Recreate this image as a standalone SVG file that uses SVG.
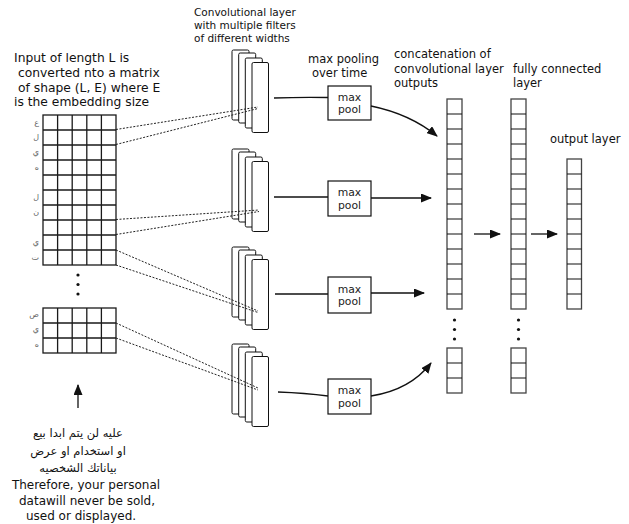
<svg xmlns="http://www.w3.org/2000/svg" width="629" height="524" viewBox="0 0 629 524">
  <style>
    text { font-family: "DejaVu Sans", Verdana, sans-serif; fill: #111; }
    .lbl { font-size: 11.5px; }
    .big { font-size: 12.3px; }
    .foot { font-size: 12px; text-anchor: middle; }
    .small { font-size: 10.5px; }
    .pooltxt { font-size: 10.8px; text-anchor: middle; fill: #222; }
    .ar { font-size: 8px; fill: #666; text-anchor: end; }
    .grid { fill: #fff; stroke: #1a1a1a; stroke-width: 1.3; }
    .gridline { fill: none; stroke: #1a1a1a; stroke-width: 1.3; }
    .cell { fill: #fff; stroke: #444; stroke-width: 1.3; }
    .cellline { fill: none; stroke: #111; stroke-width: 1.1; }
    .filt { fill: #fff; stroke: #111; stroke-width: 1; }
    .box { fill: #fff; stroke: #111; stroke-width: 1.2; }
    .dash { fill: none; stroke: #222; stroke-width: 1; stroke-dasharray: 2 1.5; }
    .wire { fill: none; stroke: #111; stroke-width: 1.3; }
    .dot { fill: #111; }
  </style>
  <defs>
    <marker id="head" markerUnits="userSpaceOnUse" markerWidth="11" markerHeight="9" refX="10" refY="4.5" orient="auto">
      <path d="M0,0 L11,4.5 L0,9 Z" fill="#111"/>
    </marker>
    <!-- one stack of four filter maps, drawn back to front -->
    <g id="stack">
      <rect class="filt" x="0" y="0" width="17" height="70" rx="1.5"/>
      <rect class="filt" x="6.7" y="3" width="17" height="70" rx="1.5"/>
      <rect class="filt" x="13.3" y="8" width="17" height="70" rx="1.5"/>
      <rect class="filt" x="20" y="12.5" width="16.5" height="70" rx="1.5"/>
    </g>
  </defs>

  <rect width="629" height="524" fill="#fff"/>

  <!-- input embedding matrix -->
  <g id="input-matrix">
    <rect class="grid" x="43" y="115" width="73" height="150"/>
    <path class="gridline" d="M57.6,115V265M72.2,115V265M86.8,115V265M101.4,115V265
      M43,130H116M43,145H116M43,160H116M43,175H116M43,190H116M43,205H116M43,220H116M43,235H116M43,250H116"/>
    <text class="ar" x="39" y="125">ع</text>
    <text class="ar" x="39" y="140">ل</text>
    <text class="ar" x="39" y="155">ي</text>
    <text class="ar" x="39" y="170">ه</text>
    <text class="ar" x="39" y="200">ل</text>
    <text class="ar" x="39" y="215">ن</text>
    <text class="ar" x="39" y="245">ي</text>
    <text class="ar" x="39" y="260">ت</text>
    <circle class="dot" cx="78" cy="275" r="1.6"/>
    <circle class="dot" cx="78" cy="284.5" r="1.6"/>
    <circle class="dot" cx="78" cy="294" r="1.6"/>
  </g>

  <g id="input-matrix-tail">
    <rect class="grid" x="43" y="308" width="73" height="45"/>
    <path class="gridline" d="M57.6,308V353M72.2,308V353M86.8,308V353M101.4,308V353M43,323H116M43,338H116"/>
    <text class="ar" x="39" y="317">ص</text>
    <text class="ar" x="39" y="332">ي</text>
    <text class="ar" x="39" y="347">ه</text>
  </g>

  <!-- convolution filter stacks -->
  <g id="filters-1"><use href="#stack" x="232" y="50"/></g>
  <g id="filters-2"><use href="#stack" x="232" y="149"/></g>
  <g id="filters-3"><use href="#stack" x="232" y="247"/></g>
  <g id="filters-4"><use href="#stack" x="232" y="344"/></g>

  <!-- max pooling boxes -->
  <g id="pool-1">
    <rect class="box" x="328" y="86" width="43" height="34"/>
    <text class="pooltxt" x="349.5" y="101">max</text>
    <text class="pooltxt" x="349.5" y="113">pool</text>
  </g>
  <g id="pool-2">
    <rect class="box" x="328" y="181" width="43" height="35"/>
    <text class="pooltxt" x="349.5" y="196">max</text>
    <text class="pooltxt" x="349.5" y="208.5">pool</text>
  </g>
  <g id="pool-3">
    <rect class="box" x="328" y="277" width="43" height="36"/>
    <text class="pooltxt" x="349.5" y="292.5">max</text>
    <text class="pooltxt" x="349.5" y="305">pool</text>
  </g>
  <g id="pool-4">
    <rect class="box" x="328" y="379" width="43" height="35"/>
    <text class="pooltxt" x="349.5" y="394">max</text>
    <text class="pooltxt" x="349.5" y="406.5">pool</text>
  </g>

  <!-- concatenated vector -->
  <g id="concat-layer">
    <rect class="cell" x="447" y="99" width="15" height="210"/>
    <path class="cellline" d="M447,114H462M447,129H462M447,144H462M447,159H462M447,174H462M447,189H462M447,204H462M447,219H462M447,234H462M447,249H462M447,264H462M447,279H462M447,294H462"/>
    <circle class="dot" cx="454.5" cy="320" r="1.6"/>
    <circle class="dot" cx="454.5" cy="329.5" r="1.6"/>
    <circle class="dot" cx="454.5" cy="339" r="1.6"/>
    <rect class="cell" x="447" y="348" width="15" height="45"/>
    <path class="cellline" d="M447,363H462M447,378H462"/>
  </g>

  <!-- fully connected layer -->
  <g id="fc-layer">
    <rect class="cell" x="511" y="99" width="15" height="210"/>
    <path class="cellline" d="M511,114H526M511,129H526M511,144H526M511,159H526M511,174H526M511,189H526M511,204H526M511,219H526M511,234H526M511,249H526M511,264H526M511,279H526M511,294H526"/>
    <circle class="dot" cx="518.5" cy="320" r="1.6"/>
    <circle class="dot" cx="518.5" cy="329.5" r="1.6"/>
    <circle class="dot" cx="518.5" cy="339" r="1.6"/>
    <rect class="cell" x="511" y="348" width="15" height="45"/>
    <path class="cellline" d="M511,363H526M511,378H526"/>
  </g>

  <!-- output layer -->
  <g id="output-layer">
    <rect class="cell" x="567" y="159" width="14.5" height="150"/>
    <path class="cellline" d="M567,174H581.5M567,189H581.5M567,204H581.5M567,219H581.5M567,234H581.5M567,249H581.5M567,264H581.5M567,279H581.5M567,294H581.5"/>
  </g>

  <g id="connectors">
    <!-- receptive fields: matrix rows to filter stacks -->
    <path class="dash" d="M116,129.5L258,107"/>
    <path class="dash" d="M116,144.5L258,108.5"/>
    <path class="dash" d="M116,219.5L259,210"/>
    <path class="dash" d="M116,234.5L259,211.5"/>
    <path class="dash" d="M116,250L258,311"/>
    <path class="dash" d="M116,265L258,312.5"/>
    <path class="dash" d="M116,323L258,388"/>
    <path class="dash" d="M116,338L258,390"/>
    <!-- filter stacks to pooling -->
    <path class="wire" d="M274,98Q300,97 328,97.5"/>
    <path class="wire" d="M274,197H328"/>
    <path class="wire" d="M275,294H328"/>
    <path class="wire" d="M278,392Q305,393 328,396"/>
    <!-- pooling to concatenation -->
    <path class="wire" marker-end="url(#head)" d="M371,106Q410,114 437,136"/>
    <path class="wire" marker-end="url(#head)" d="M371,198H431"/>
    <path class="wire" marker-end="url(#head)" d="M371,293H424"/>
    <path class="wire" marker-end="url(#head)" d="M371,396Q410,390 431,363"/>
    <!-- dense layers -->
    <path class="wire" marker-end="url(#head)" d="M474,234H500"/>
    <path class="wire" marker-end="url(#head)" d="M531,234H557"/>
    <!-- input arrow -->
    <path class="wire" marker-end="url(#head)" d="M78,408V385"/>
  </g>

  <!-- captions -->
  <g id="captions">
    <text class="small" x="194" y="16">Convolutional layer</text>
    <text class="small" x="194" y="29">with multiple filters</text>
    <text class="small" x="194" y="42">of different widths</text>

    <text class="big" x="14" y="62">Input of length L is</text>
    <text class="big" x="18" y="77">converted nto a matrix</text>
    <text class="big" x="18" y="92">of shape (L, E) where E</text>
    <text class="big" x="14" y="106">is the embedding size</text>

    <text class="lbl" x="308" y="63">max pooling</text>
    <text class="lbl" x="312" y="77">over time</text>

    <text class="lbl" x="394" y="58">concatenation of</text>
    <text class="lbl" x="394" y="73">convolutional layer</text>
    <text class="lbl" x="394" y="87">outputs</text>

    <text class="lbl" x="513" y="73">fully connected</text>
    <text class="lbl" x="513" y="87">layer</text>

    <text class="lbl" x="550" y="143">output layer</text>

    <text class="lbl" x="78" y="437" text-anchor="middle" direction="rtl">عليه لن يتم ابدا بيع</text>
    <text class="lbl" x="78" y="455" text-anchor="middle" direction="rtl">او استخدام او عرض</text>
    <text class="lbl" x="78" y="472" text-anchor="middle" direction="rtl">بياناتك الشخصيه</text>
    <text class="foot" x="86" y="489">Therefore, your personal</text>
    <text class="foot" x="87" y="505">datawill never be sold,</text>
    <text class="foot" x="81" y="520">used or displayed.</text>
  </g>
</svg>
